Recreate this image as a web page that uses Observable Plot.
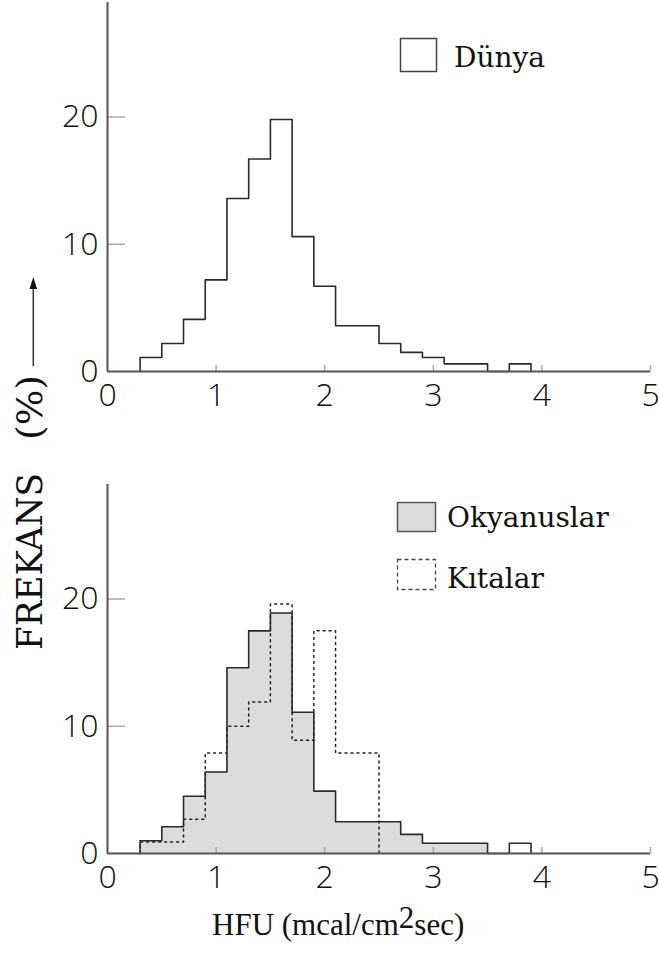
<!DOCTYPE html>
<html>
<head>
<meta charset="utf-8">
<script src="https://cdn.jsdelivr.net/npm/d3@7"></script>
<script src="https://cdn.jsdelivr.net/npm/@observablehq/plot@0.6"></script>
<style>
  html, body { margin: 0; padding: 0; background: #fff; }
  #wrap { position: relative; width: 659px; height: 954px; background: #fff; overflow: hidden; }
  #top, #bot { position: absolute; left: 0; }
  #top { top: 0; }
  #bot { top: 480px; }
  #overlay { position: absolute; left: 0; top: 0; pointer-events: none; }
</style>
</head>
<body>
<div id="wrap">
  <div id="top"></div>
  <div id="bot"></div>
  <svg id="overlay" width="659" height="954" viewBox="0 0 659 954">
    <!-- legend top -->
    <rect x="400.5" y="38.5" width="36" height="33" fill="#fff" stroke="#444" stroke-width="1.5"/>
    <text x="454" y="67" font-family="'DejaVu Serif', serif" font-size="28" fill="#111">Dünya</text>
    <!-- legend bottom -->
    <rect x="397.5" y="502.5" width="38" height="29" fill="#dcdcdc" stroke="#555" stroke-width="1.5"/>
    <text x="447" y="527" font-family="'DejaVu Serif', serif" font-size="28" fill="#111">Okyanuslar</text>
    <rect x="397.5" y="559.5" width="38" height="30" fill="#fff" stroke="#444" stroke-width="1.3" stroke-dasharray="4,3"/>
    <text x="447" y="588" font-family="'DejaVu Serif', serif" font-size="28" fill="#111">Kıtalar</text>
    <!-- x title -->
    <text x="212" y="935" font-family="'Liberation Serif', serif" font-size="31" fill="#111">HFU (mcal/cm<tspan dy="-7">2</tspan><tspan dy="7">sec)</tspan></text>
    <!-- y title -->
    <g transform="translate(42,650) rotate(-90)">
      <text x="0" y="0" font-family="'DejaVu Serif', serif" font-size="35" fill="#111" textLength="177" lengthAdjust="spacingAndGlyphs">FREKANS</text>
      <text x="210" y="0" font-family="'DejaVu Serif', serif" font-size="35" fill="#111" textLength="65" lengthAdjust="spacingAndGlyphs">(%)</text>
    </g>
    <line x1="33.3" y1="366" x2="33.3" y2="286" stroke="#333" stroke-width="1.5"/>
    <polygon points="33.3,277 29.5,289 37.1,289" fill="#111"/>
  </svg>
</div>
<script>
// ---- data (bin starts, width 0.2; HFU units) ----
const binStarts = [0.3, 0.5, 0.7, 0.9, 1.1, 1.3, 1.5, 1.7, 1.9, 2.1, 2.3, 2.5, 2.7, 2.9, 3.1, 3.3, 3.5, 3.7];
const binWidth = 0.2;
// Dünya (world) frequency, %
const dunya = [1.1, 2.2, 4.1, 7.2, 13.6, 16.7, 19.8, 10.6, 6.7, 3.6, 3.6, 2.2, 1.5, 1.1, 0.6, 0.6, 0, 0.6];
// Okyanuslar (oceans) frequency, %
const okyanuslar = [1.0, 2.1, 4.5, 6.4, 14.6, 17.5, 18.9, 11.1, 4.9, 2.5, 2.5, 2.5, 1.5, 0.8, 0.8, 0.8, 0, 0.8];
// Kıtalar (continents) frequency, %
const kitalar = [0.9, 0.9, 2.7, 7.9, 10.0, 11.9, 19.6, 8.9, 17.5, 7.9, 7.9];
// axis ticks
const xTickValues = [0, 1, 2, 3, 4, 5];
const yTickValues = [0, 10, 20];

function stepPoints(vals) {
  const pts = [{x: binStarts[0], y: 0}];
  vals.forEach((v, i) => pts.push({x: binStarts[i], y: v}));
  pts.push({x: binStarts[vals.length - 1] + binWidth, y: 0});
  return pts;
}

const firstGap = okyanuslar.indexOf(0);
const oceanFill = stepPoints(okyanuslar.slice(0, firstGap));

const lineColor = "#2a2a2a";
const axisColor = "#555";
const tickColor = "#aaa";

function frame(extraMarks, opts) {
  return Plot.plot({
    width: 659,
    height: 410,
    marginLeft: 107,
    marginRight: 9,
    marginTop: opts.marginTop,
    marginBottom: opts.marginBottom,
    x: {domain: [0, 5], ticks: xTickValues.length - 1, tickFormat: d3.format("d"), tickSize: 0, tickPadding: 12, label: null},
    y: {domain: [0, 29], ticks: 3, tickFormat: d3.format("d"), tickSize: 0, tickPadding: 9, label: null},
    style: {fontFamily: "'Open Sans', sans-serif", fontSize: "32px", fontWeight: 300, color: "#111", background: "transparent", overflow: "visible"},
    marks: [
      ...extraMarks,
      Plot.ruleX(xTickValues.filter(d => d > 0), {y1: 0, y2: 0, insetTop: -6, stroke: tickColor, strokeWidth: 1.5}),
      Plot.ruleY(yTickValues.filter(d => d > 0), {x1: 0, x2: 0, insetRight: -18, stroke: tickColor, strokeWidth: 1.5}),
      Plot.ruleY([0], {stroke: axisColor, strokeWidth: 2}),
      Plot.ruleX([0], {stroke: axisColor, strokeWidth: 2})
    ]
  });
}

const topPlot = frame([
  Plot.line(stepPoints(dunya), {x: "x", y: "y", curve: "step-after", stroke: lineColor, strokeWidth: 1.6})
], {marginTop: 2, marginBottom: 39});

const botPlot = frame([
  Plot.areaY(oceanFill, {x: "x", y: "y", curve: "step-after", fill: "#dcdcdc"}),
  Plot.line(stepPoints(kitalar), {x: "x", y: "y", curve: "step-after", stroke: "#222", strokeWidth: 1.5, strokeDasharray: "2,4"}),
  Plot.line(stepPoints(okyanuslar), {x: "x", y: "y", curve: "step-after", stroke: lineColor, strokeWidth: 1.6})
], {marginTop: 4, marginBottom: 37});

document.getElementById("top").appendChild(topPlot);
document.getElementById("bot").appendChild(botPlot);
</script>
</body>
</html>
